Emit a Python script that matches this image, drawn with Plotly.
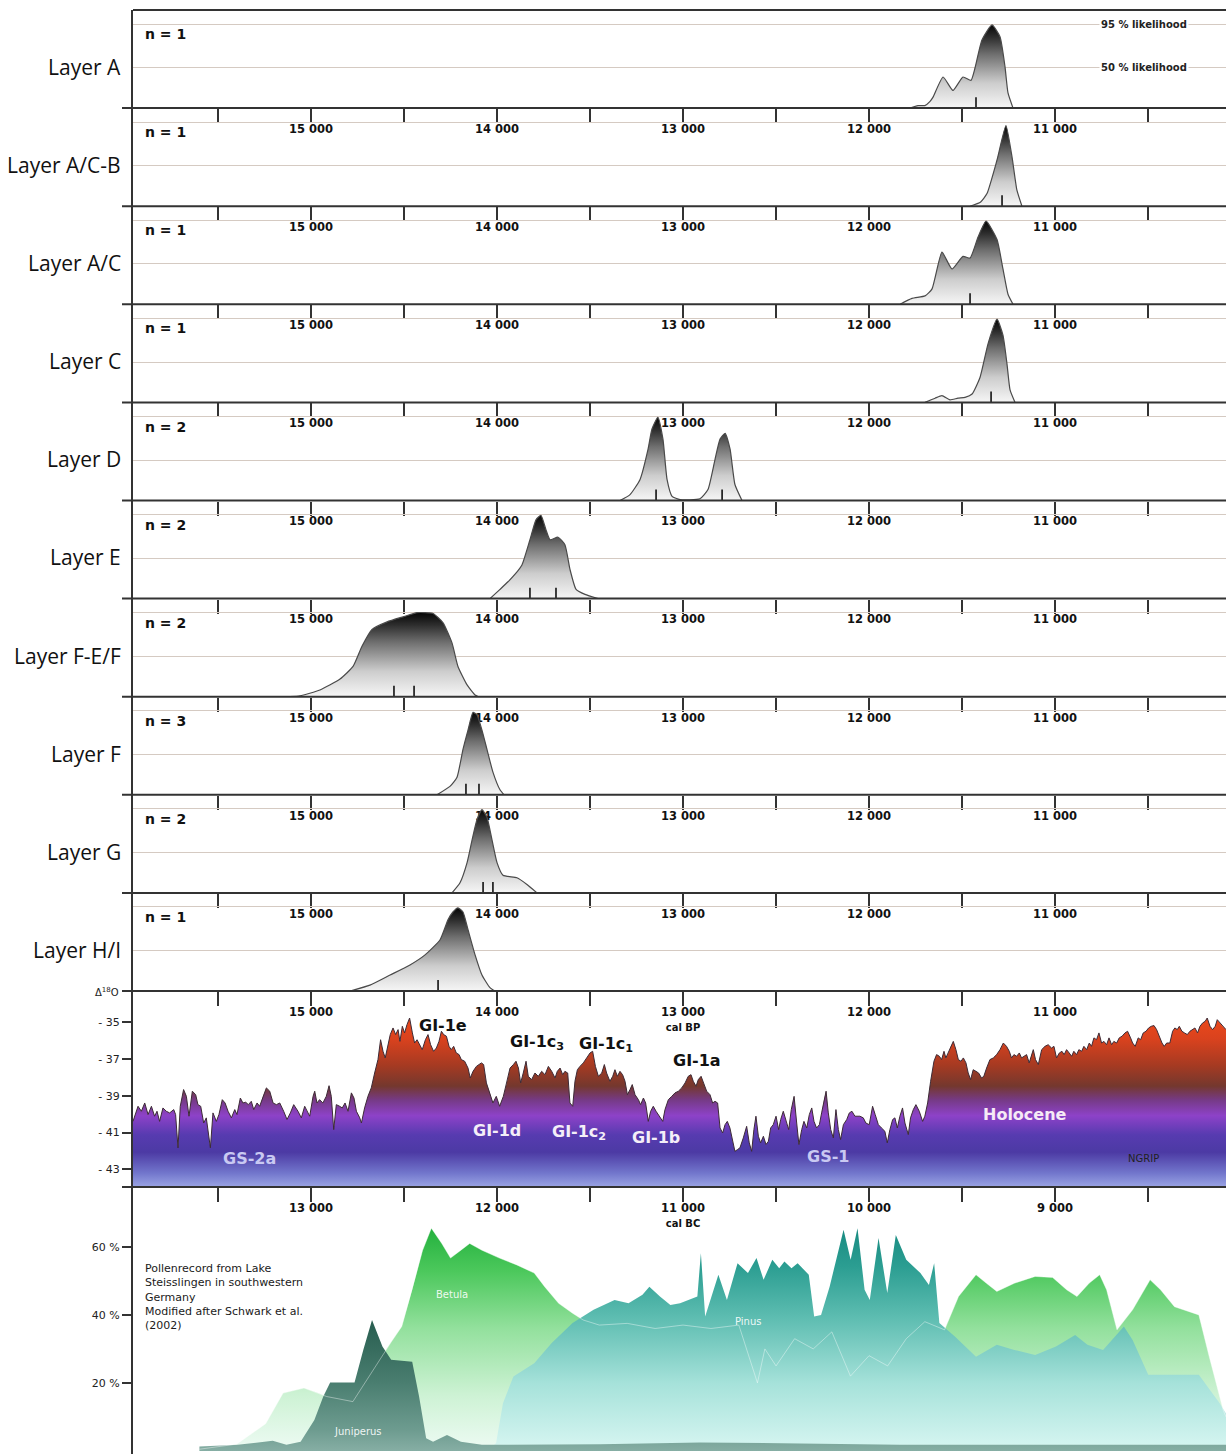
import plotly.graph_objects as go

# ------------------------------------------------------------------ data
layer_names = ["Layer A", "Layer A/C-B", "Layer A/C", "Layer C", "Layer D",
               "Layer E", "Layer F-E/F", "Layer F", "Layer G", "Layer H/I"]
layer_n = [1, 1, 1, 1, 2, 2, 2, 3, 2, 1]

# calibrated probability densities (age cal BP, relative density)
A_age = [11780, 11737, 11700, 11672, 11656, 11602, 11549, 11495, 11452, 11430, 11393, 11339, 11296, 11269, 11253, 11226]
A_dens = [0, 0.03, 0.03, 0.08, 0.13, 0.37, 0.21, 0.37, 0.33, 0.48, 0.81, 0.99, 0.85, 0.49, 0.18, 0]
A_med = [11425]

ACB_age = [11457, 11400, 11366, 11312, 11264, 11231, 11205, 11178]
ACB_dens = [0, 0.05, 0.15, 0.55, 0.96, 0.58, 0.19, 0]
ACB_med = [11285]

AC_age = [11833, 11769, 11699, 11662, 11608, 11554, 11495, 11457, 11414, 11371, 11312, 11280, 11253, 11226]
AC_dens = [0, 0.07, 0.1, 0.18, 0.62, 0.42, 0.57, 0.55, 0.8, 0.99, 0.77, 0.42, 0.12, 0]
AC_med = [11457]

C_age = [11699, 11645, 11608, 11565, 11522, 11484, 11446, 11403, 11360, 11312, 11280, 11258, 11242, 11215]
C_dens = [0, 0.05, 0.08, 0.03, 0.05, 0.06, 0.1, 0.3, 0.7, 0.99, 0.8, 0.45, 0.15, 0]
C_med = [11344]

D_age = [13339, 13285, 13231, 13188, 13167, 13135, 13108, 13086, 13059, 13016, 12909, 12866, 12828, 12801, 12774, 12747, 12721, 12683]
D_dens = [0, 0.07, 0.25, 0.61, 0.85, 0.99, 0.73, 0.25, 0.05, 0.01, 0.02, 0.13, 0.49, 0.73, 0.80, 0.61, 0.19, 0]
D_med = [13145, 12790]

E_age = [14038, 13984, 13941, 13903, 13866, 13823, 13790, 13764, 13737, 13715, 13672, 13635, 13608, 13575, 13527, 13457]
E_dens = [0, 0.11, 0.2, 0.29, 0.4, 0.70, 0.94, 0.99, 0.82, 0.70, 0.73, 0.64, 0.35, 0.11, 0.05, 0]
E_med = [13823, 13683]

FEF_age = [15113, 15059, 14952, 14844, 14774, 14726, 14672, 14591, 14505, 14430, 14344, 14290, 14242, 14210, 14161, 14118, 14100]
FEF_dens = [0, 0.01, 0.08, 0.21, 0.36, 0.6, 0.8, 0.89, 0.95, 1.0, 0.99, 0.88, 0.64, 0.36, 0.14, 0.02, 0]
FEF_med = [14554, 14446]

F_age = [14323, 14253, 14215, 14183, 14156, 14129, 14108, 14081, 14054, 14022, 13984, 13962]
F_dens = [0, 0.10, 0.21, 0.54, 0.77, 0.98, 0.95, 0.77, 0.54, 0.27, 0.06, 0]
F_med = [14167, 14097]

G_age = [14242, 14199, 14161, 14134, 14108, 14081, 14054, 14027, 14000, 13968, 13893, 13839, 13785]
G_dens = [0, 0.12, 0.36, 0.63, 0.87, 0.99, 0.90, 0.63, 0.36, 0.21, 0.18, 0.10, 0]
G_med = [14075, 14022]

HI_age = [14790, 14683, 14575, 14468, 14387, 14306, 14263, 14237, 14210, 14183, 14156, 14118, 14081, 14038, 14011]
HI_dens = [0, 0.07, 0.19, 0.31, 0.43, 0.61, 0.85, 0.94, 0.99, 0.94, 0.73, 0.43, 0.19, 0.04, 0]
HI_med = [14317]

# NGRIP delta 18O (age cal BP, permil)
ngrip_age = [
    15957, 15930, 15912, 15894, 15876, 15858, 15841, 15828, 15814, 15796, 15778, 15760, 15738, 15728, 15715,
    15703, 15685, 15670, 15656, 15638, 15620, 15608, 15593, 15577, 15563, 15541, 15527, 15509, 15495, 15477,
    15462, 15446, 15428, 15410, 15398, 15380, 15366, 15351, 15337, 15321, 15308, 15290, 15276, 15258, 15240,
    15222, 15204, 15186, 15168, 15147, 15129, 15111, 15093, 15070, 15052, 15034, 15022, 15007, 14989, 14980,
    14968, 14954, 14936, 14918, 14903, 14891, 14878, 14864, 14846, 14832, 14817, 14801, 14783, 14769, 14756,
    14738, 14729, 14712, 14694, 14676, 14658, 14640, 14626, 14613, 14601, 14586, 14574, 14559, 14545, 14532,
    14522, 14509, 14497, 14484, 14470, 14455, 14443, 14430, 14416, 14402, 14385, 14371, 14357, 14341, 14326,
    14312, 14299, 14287, 14272, 14258, 14246, 14233, 14219, 14204, 14192, 14174, 14156, 14144, 14129, 14111,
    14084, 14072, 14057, 14039, 14022, 14004, 13986,
    13966, 13948, 13930, 13912, 13898, 13885, 13873, 13859, 13844, 13832, 13814, 13796, 13778, 13760, 13742,
    13724, 13706, 13688, 13676, 13661, 13647, 13635, 13620, 13608, 13593, 13581, 13568, 13554, 13536, 13518,
    13500, 13486, 13471, 13455, 13437, 13423, 13411, 13393, 13378, 13366, 13353, 13339, 13325, 13312, 13299,
    13285, 13273, 13258, 13240, 13228, 13213, 13201, 13187, 13174, 13160, 13145, 13127, 13109, 13097, 13079,
    13061, 13043, 13025, 13007, 12989, 12972, 12957, 12945, 12930, 12918, 12903, 12887, 12873, 12855, 12841,
    12828, 12814, 12801, 12787, 12774, 12762, 12748, 12733, 12721, 12708, 12694, 12676, 12658, 12644, 12631,
    12619, 12608, 12595, 12583, 12568, 12554, 12541, 12529, 12515, 12500, 12486, 12475, 12461, 12446, 12432,
    12418, 12403, 12389, 12377, 12362, 12350, 12335, 12321, 12308, 12296, 12282, 12267, 12255, 12242, 12231,
    12219, 12206, 12192, 12178, 12165, 12153, 12138, 12120, 12106, 12092, 12076, 12058,
    12049, 12031, 12017, 11999, 11981, 11967, 11950, 11933, 11915, 11902, 11888, 11873, 11861, 11848, 11834,
    11820, 11807, 11789, 11777, 11762, 11748, 11730, 11712, 11700, 11685, 11669, 11651, 11637, 11622, 11610,
    11597, 11587, 11574, 11560, 11547, 11533, 11520, 11506, 11493, 11479, 11467, 11454, 11440, 11425, 11411,
    11395, 11383, 11368, 11350, 11332, 11314, 11296, 11278, 11261, 11246, 11234, 11221, 11207, 11192, 11180,
    11166, 11153, 11139, 11126, 11117, 11105, 11090, 11072, 11054, 11037, 11019, 11006, 10992, 10977, 10963,
    10951, 10938, 10924, 10911, 10899, 10884, 10872, 10857, 10845, 10830, 10816, 10804, 10791, 10777, 10764,
    10750, 10737, 10723, 10710, 10696, 10684, 10669, 10655, 10640, 10624, 10610, 10594, 10583, 10569, 10553,
    10540, 10526, 10511, 10497, 10483, 10468, 10454, 10440, 10425, 10413, 10400, 10383, 10368, 10356, 10343,
    10332, 10318, 10304, 10289, 10275, 10261, 10248, 10234, 10221, 10207, 10193, 10182, 10167, 10153, 10139,
    10128, 10114, 10099, 10081]
ngrip_d18o = [
    -40.39, -39.57, -39.84, -39.39, -40.02, -39.57, -40.11, -39.84, -40.39, -39.66, -39.84, -39.93, -39.75, -40.02, -41.83,
    -39.57, -38.66, -39.03, -40.11, -38.75, -38.94, -39.48, -39.57, -40.48, -40.20, -41.83, -39.93, -40.39, -40.02, -39.21,
    -39.39, -39.84, -40.20, -39.75, -40.02, -39.12, -39.39, -39.35, -39.48, -39.30, -39.75, -39.39, -39.57, -39.03, -38.57,
    -38.75, -39.39, -39.48, -39.39, -39.84, -40.29, -39.93, -39.48, -39.84, -40.20, -39.57, -39.84, -40.11, -39.03, -38.75,
    -39.39, -39.21, -39.39, -39.03, -38.45, -39.03, -40.84, -39.48, -39.57, -39.66, -39.39, -39.84, -38.84, -39.12, -39.84,
    -40.20, -40.48, -39.66, -39.03, -38.57, -37.76, -37.03, -35.95, -36.58, -36.94, -36.22, -35.67, -35.31, -35.67, -35.40,
    -36.04, -35.22, -35.58, -35.13, -34.77, -35.58, -36.13, -35.95, -36.22, -36.49, -35.95, -35.67, -36.22, -36.58, -36.40,
    -36.04, -35.49, -35.67, -35.76, -36.31, -36.49, -36.31, -36.67, -36.76, -37.03, -37.12, -37.49, -38.03, -37.67, -37.40,
    -37.21, -37.30, -38.30, -38.84, -39.39, -39.03, -39.57,
    -39.03, -38.30, -37.49, -37.30, -37.12, -37.49, -38.30, -37.76, -37.12, -37.94, -38.12, -37.76, -37.94, -37.67, -37.85,
    -37.40, -37.67, -38.03, -37.67, -37.49, -37.85, -37.67, -37.76, -39.39, -39.57, -38.21, -37.58, -37.40, -37.21, -36.94,
    -36.67, -36.58, -37.40, -37.94, -37.76, -37.30, -37.76, -38.21, -37.94, -37.58, -37.94, -37.67, -37.85, -38.21, -38.94,
    -38.66, -38.39, -38.94, -39.21, -39.48, -39.12, -39.39, -40.39, -39.84, -39.57, -39.84, -40.11, -40.39, -39.75, -39.21,
    -39.03, -38.84, -38.75, -38.57, -38.30, -37.94, -37.85, -38.21, -38.48, -38.12, -37.94, -38.39, -38.75, -38.94, -39.39,
    -39.30, -39.39, -40.75, -41.02, -40.57, -40.39, -40.75, -41.47, -42.02, -41.93, -41.83, -41.29, -40.66, -41.56, -42.02,
    -40.84, -40.11, -41.20, -41.56, -41.20, -41.65, -41.47, -40.75, -40.57, -40.11, -40.84, -40.29, -39.84, -40.39, -40.84,
    -39.75, -39.03, -40.48, -41.65, -40.84, -40.39, -40.75, -40.02, -39.66, -40.39, -40.75, -40.57, -39.93, -39.21, -38.75,
    -39.93, -40.84, -41.29, -39.75, -40.84, -41.38, -40.57, -40.29, -39.93, -39.84, -40.11, -40.11,
    -40.11, -40.20, -40.48, -40.57, -39.57, -40.02, -40.57, -40.75, -40.93, -41.56, -40.84, -40.29, -40.20, -40.75, -40.11,
    -39.66, -40.48, -41.11, -40.20, -39.75, -39.48, -39.84, -40.39, -40.11, -39.39, -38.21, -37.12, -36.76, -36.85, -37.03,
    -36.58, -36.94, -36.67, -36.31, -36.04, -36.49, -37.03, -37.12, -36.94, -37.21, -37.76, -38.12, -37.58, -37.67, -37.76,
    -38.03, -37.94, -37.49, -37.03, -36.94, -36.76, -36.49, -36.13, -36.31, -36.58, -36.94, -36.76, -36.85, -36.67, -36.94,
    -36.85, -36.76, -37.21, -36.76, -36.49, -37.03, -37.30, -36.49, -36.31, -36.22, -36.40, -36.31, -36.94, -36.67, -36.58,
    -36.76, -36.49, -36.67, -36.85, -36.58, -36.76, -36.49, -36.58, -36.31, -36.49, -36.13, -36.31, -35.85, -35.95, -35.58,
    -36.13, -36.04, -36.22, -35.85, -36.22, -36.04, -36.13, -35.85, -35.76, -35.58, -35.49, -35.85, -36.13, -36.31, -35.85,
    -35.95, -35.58, -35.49, -35.31, -35.22, -35.18, -35.40, -35.76, -36.13, -36.31, -36.13, -36.13, -35.49, -35.31, -35.40,
    -35.22, -35.49, -35.58, -35.67, -35.49, -35.40, -35.31, -35.58, -35.22, -35.04, -34.95, -34.77, -35.22, -35.40, -35.22,
    -34.86, -35.04, -35.22, -35.40]

# Pollen record, Lake Steisslingen (age cal BC, percent)
juniperus_bc = [13600, 13394, 13206, 13132, 13056, 12982, 12934, 12897, 12766, 12719, 12672, 12616, 12569, 12456,
                12419, 12381, 12344, 12269, 12194, 12081, 11446, 10909, 10371, 9834, 9296, 8758, 8081]
juniperus_pct = [1.3, 1.8, 3.0, 1.8, 2.7, 9.1, 16.0, 20.1, 20.1, 29.7, 38.5, 30.7, 26.8, 26.2,
                 16.0, 3.7, 2.7, 4.7, 2.7, 1.8, 2.0, 2.5, 2.2, 1.8, 1.8, 1.8, 1.8]
betula_bc = [13600, 13400, 13244, 13150, 13038, 12962, 12916, 12775, 12644, 12569, 12512, 12456, 12400, 12353,
             12297, 12250, 12194, 12147, 12081, 11987, 11894, 11800, 11744, 11669, 11594, 11537, 11450, 11300,
             11150, 11000, 10850, 10700, 10600, 10560, 10500, 10400, 10300, 10200, 10100, 10000, 9900, 9800,
             9700, 9594, 9519, 9425, 9369, 9313, 9219, 9107, 9013, 8938, 8882, 8817, 8760, 8723, 8667, 8583,
             8489, 8433, 8358, 8227, 8171, 8096, 8081]
betula_pct = [0.5, 2, 8, 17, 18.5, 17, 16, 14.5, 25.8, 32, 36.6, 47.4, 59, 65.5,
              61, 56.7, 59, 61, 59, 56.7, 54.7, 52.3, 48.3, 43.4, 40.5, 38.5, 37, 37.5,
              36, 37, 36, 37, 20, 30, 25, 33, 30, 35, 22, 28, 25, 33,
              38, 35.6, 45.4, 51.8, 49.3, 46.9, 49.3, 51.3, 51, 47.4, 45.4, 49.3, 51.8, 47.4, 35.6, 41.5,
              50.3, 47.4, 42.4, 40, 27.7, 12, 10]
pinus_bc = [12050, 12005, 11968, 11912, 11800, 11706, 11594, 11481, 11368, 11293, 11218, 11181, 11124, 11068,
            11016, 10923, 10904, 10881, 10810, 10764, 10707, 10651, 10605, 10567, 10520, 10483, 10455, 10417,
            10384, 10324, 10295, 10258, 10212, 10137, 10099, 10062, 10024, 9996, 9949, 9902, 9856, 9800, 9724,
            9678, 9650, 9622, 9537, 9425, 9313, 9219, 9107, 8995, 8892, 8826, 8742, 8630, 8583, 8499, 8227,
            8115, 8081]
pinus_pct = [0, 2.3, 14, 21.9, 25.8, 31.7, 37.6, 41.5, 44.4, 43.4, 45.9, 48.3, 45.4, 42.9,
             43.4, 45.4, 58.1, 39.5, 51.8, 44.4, 55.2, 52.3, 56.7, 50.3, 56.2, 53.7, 55.7, 53.7,
             55.2, 51.8, 39.5, 40, 48.3, 65, 56.2, 65.5, 47.4, 44.4, 62.6, 46.4, 63.5, 56.2, 52.3,
             48.8, 55.2, 37.6, 33.6, 27.7, 31.2, 29.7, 28.2, 30.7, 34.1, 31.2, 29.7, 36.6, 32.6, 22.4, 22.4,
             14, 11]

# axis ticks
major_bp = [15000, 14000, 13000, 12000, 11000]
minor_bp = [15500, 14500, 13500, 12500, 11500, 10500]
bc_offset = 2000          # offset used by the chart's lower (cal BC) scale
ngrip_ticks = [-35, -37, -39, -41, -43]
pollen_ticks = [20, 40, 60]

# ------------------------------------------------------------------ layout constants
W, H = 1226, 1454          # page size
ML, MT = 133, 10           # plot area origin on the page
PW, PH = W - ML, H - MT
bp_range = [15957, 10081]
bc_range = [bp_range[0] - bc_offset, bp_range[1] - bc_offset]
dens_range = [0, 1.167]
ngrip_range = [-43.96, -33.30]
pollen_range = [-0.9, 77.6]
bounds = [MT + 98.1 * i for i in range(11)] + [1187, 1454]


def yp(px):
    return (H - px) / PH


def fmt(v):
    return f"{v // 1000} {v % 1000:03d}"


def ax(k):
    return "" if k == 1 else str(k)


LINE = "#333333"
TICKFONT = dict(family="DejaVu Sans", size=11.5, color="#111111", weight="bold")
MINOR = dict(tickvals=minor_bp, ticks="outside", ticklen=14, tickwidth=2, tickcolor=LINE, showgrid=False)
gray_cs = [[0, "#f6f6f6"], [0.3, "#cdcdcd"], [0.65, "#6e6e6e"], [0.85, "#2e2e2e"], [1, "#050505"]]

fig = go.Figure()
layout = dict(width=W, height=H, margin=dict(l=ML, r=0, t=MT, b=0, pad=0),
              paper_bgcolor="white", plot_bgcolor="white", showlegend=False,
              font=dict(family="DejaVu Sans", color="#111111"))
annotations = []
shapes = []

layers = [(A_age, A_dens, A_med), (ACB_age, ACB_dens, ACB_med), (AC_age, AC_dens, AC_med),
          (C_age, C_dens, C_med), (D_age, D_dens, D_med), (E_age, E_dens, E_med),
          (FEF_age, FEF_dens, FEF_med), (F_age, F_dens, F_med), (G_age, G_dens, G_med),
          (HI_age, HI_dens, HI_med)]

bp_text = [fmt(v) for v in major_bp]

for i, (age, dens, med) in enumerate(layers):
    k = i + 1
    xa, ya = "x" + ax(k), "y" + ax(k)
    fig.add_trace(go.Scatter(
        x=age, y=dens, xaxis=xa, yaxis=ya, mode="lines", fill="tozeroy",
        fillgradient=dict(type="vertical", colorscale=gray_cs),
        line=dict(color="#4a4a4a", width=1.2, shape="spline", smoothing=0.5),
        hoverinfo="skip"))
    mx, my = [], []
    for m in med:
        mx += [m, m, None]
        my += [0, 0.13, None]
    fig.add_trace(go.Scatter(x=mx, y=my, xaxis=xa, yaxis=ya, mode="lines",
                             line=dict(color="#111111", width=1.6), hoverinfo="skip"))
    texts = list(bp_text)
    if k == 10:
        texts = [t + "<br><span style='font-size:10px'>cal BP</span>" if v == 13000 else t
                 for v, t in zip(major_bp, texts)]
    layout["xaxis" + ax(k)] = dict(
        domain=[0, 1], anchor=ya, range=bp_range, showgrid=False, zeroline=False, showline=False,
        ticks="outside", ticklen=14, tickwidth=2, tickcolor=LINE, tickvals=major_bp, ticktext=texts,
        tickfont=TICKFONT, ticklabelstandoff=-4, minor=MINOR)
    layout["yaxis" + ax(k)] = dict(
        domain=[yp(bounds[i + 1]), yp(bounds[i])], anchor=xa, range=dens_range,
        showline=True, linecolor=LINE, linewidth=2, showgrid=True, gridcolor="#d5cac2", gridwidth=1,
        tickvals=[0.48, 1.0], showticklabels=False, ticks="", zeroline=False)
    annotations.append(dict(text=layer_names[i], xref="paper", x=-10 / PW, xanchor="right",
                            yref=ya, y=0.49, yanchor="middle", showarrow=False,
                            font=dict(family="Open Sans", size=21, color="#111111")))
    annotations.append(dict(text=f"n = {layer_n[i]}", xref="paper", x=10 / PW, xanchor="left",
                            yref=ya, y=0.88, yanchor="middle", showarrow=False,
                            font=dict(family="DejaVu Sans", size=14, color="#111111", weight="bold")))

# likelihood labels in first panel
for lab, yy in [("95 % likelihood", 1.0), ("50 % likelihood", 0.48)]:
    annotations.append(dict(text=lab, xref="x", x=10522, yref="y", y=yy, showarrow=False,
                            bgcolor="white", borderpad=1,
                            font=dict(family="DejaVu Sans", size=10, color="#222222", weight="bold")))

# ------------------------------------------------------------------ NGRIP panel
xa, ya = "x11", "y11"
floor = ngrip_range[0]
fig.add_trace(go.Scatter(
    x=ngrip_age + [ngrip_age[-1], ngrip_age[0]], y=ngrip_d18o + [floor, floor],
    xaxis=xa, yaxis=ya, mode="none", fill="toself",
    fillgradient=dict(type="vertical", start=floor, stop=-34.5,
                      colorscale=[[0, "#9aa4e4"], [0.08, "#7276cc"], [0.2, "#4c3aa4"], [0.3, "#573bb0"],
                                  [0.41, "#8d42c8"], [0.5, "#763a86"], [0.58, "#74382e"],
                                  [0.7, "#a63a22"], [0.85, "#d9421e"], [1, "#ef4a1a"]]),
    hoverinfo="skip"))
fig.add_trace(go.Scatter(x=ngrip_age, y=ngrip_d18o, xaxis=xa, yaxis=ya, mode="lines",
                         line=dict(color="#3d2b36", width=1), hoverinfo="skip"))
bc_text = []
for v in major_bp:
    if v == 13000:
        bc_text.append(fmt(v - bc_offset) + "<br><span style='font-size:10px'>cal BC</span>")
    else:
        bc_text.append(fmt(v - bc_offset))
layout["xaxis11"] = dict(domain=[0, 1], anchor=ya, range=bp_range, showgrid=False, zeroline=False,
                         showline=False, ticks="outside", ticklen=14, tickwidth=2, tickcolor=LINE,
                         tickvals=major_bp, ticktext=bc_text, tickfont=TICKFONT, ticklabelstandoff=-4,
                         minor=MINOR)
layout["yaxis11"] = dict(domain=[yp(bounds[11]), yp(bounds[10])], anchor=xa, range=ngrip_range,
                         showline=True, linecolor=LINE, linewidth=2, showgrid=False, zeroline=False,
                         ticks="outside", ticklen=9, tickwidth=1.5, tickcolor=LINE,
                         tickvals=ngrip_ticks, ticktext=[f"- {abs(v)}" for v in ngrip_ticks],
                         tickfont=dict(family="DejaVu Sans", size=11, color="#222222"))

ng_labels = [("GI-1e", 14290, -35.2, "#111111"), ("GI-1c<sub>3</sub>", 13785, -36.1, "#111111"),
             ("GI-1c<sub>1</sub>", 13414, -36.2, "#111111"), ("GI-1a", 12925, -37.1, "#111111"),
             ("GI-1d", 14000, -40.9, "#f4eef8"), ("GI-1c<sub>2</sub>", 13559, -41.0, "#f4eef8"),
             ("GI-1b", 13145, -41.25, "#f4eef8"), ("GS-2a", 15333, -42.4, "#c9c9f2"),
             ("GS-1", 12221, -42.3, "#c9c9f2"), ("Holocene", 11162, -40.0, "#f6eaf6")]
for t, x, y, c in ng_labels:
    annotations.append(dict(text=t, xref=xa, x=x, yref=ya, y=y, showarrow=False,
                            font=dict(family="DejaVu Sans", size=16, color=c, weight="bold")))
annotations.append(dict(text="NGRIP", xref=xa, x=10522, yref=ya, y=-42.4, showarrow=False,
                        font=dict(family="DejaVu Sans", size=10, color="#222222")))
annotations.append(dict(text="Δ<sup>18</sup>O", xref="paper", x=-40 / PW, yref="paper", y=yp(1000),
                        showarrow=False, font=dict(family="DejaVu Sans", size=10, color="#222222")))

# ------------------------------------------------------------------ pollen panel
xa, ya = "x12", "y12"
fig.add_trace(go.Scatter(
    x=betula_bc, y=betula_pct, xaxis=xa, yaxis=ya, mode="none", fill="tozeroy",
    fillgradient=dict(type="vertical", start=0, stop=66,
                      colorscale=[[0, "#eefbf4"], [0.25, "#cdf2d4"], [0.55, "#92e09c"],
                                  [0.8, "#4cc85c"], [1, "#22b03c"]]),
    hoverinfo="skip"))
fig.add_trace(go.Scatter(
    x=pinus_bc, y=pinus_pct, xaxis=xa, yaxis=ya, mode="none", fill="tozeroy",
    fillgradient=dict(type="vertical", start=0, stop=66,
                      colorscale=[[0, "#d8f6f2"], [0.3, "#a6e2da"], [0.6, "#5cbcb0"],
                                  [0.82, "#2c9e92"], [1, "#178a80"]]),
    hoverinfo="skip"))
fig.add_trace(go.Scatter(
    x=juniperus_bc, y=juniperus_pct, xaxis=xa, yaxis=ya, mode="none", fill="tozeroy",
    fillgradient=dict(type="vertical", start=0, stop=40,
                      colorscale=[[0, "#86aea4"], [0.15, "#6e9c90"], [0.5, "#4a7e70"], [1, "#245a4c"]]),
    hoverinfo="skip"))
fig.add_trace(go.Scatter(x=betula_bc, y=betula_pct, xaxis=xa, yaxis=ya, mode="lines",
                         line=dict(color="rgba(255,255,255,0.4)", width=1), hoverinfo="skip"))
layout["xaxis12"] = dict(domain=[0, 1], anchor=ya, range=bc_range, showgrid=False, zeroline=False,
                         showline=False, showticklabels=False, ticks="")
layout["yaxis12"] = dict(domain=[yp(bounds[12]), yp(bounds[11])], anchor=xa, range=pollen_range,
                         showline=True, linecolor=LINE, linewidth=2, showgrid=False, zeroline=False,
                         ticks="outside", ticklen=9, tickwidth=1.5, tickcolor=LINE,
                         tickvals=pollen_ticks, ticktext=[f"{v} %" for v in pollen_ticks],
                         tickfont=dict(family="DejaVu Sans", size=11, color="#222222"))
for t, x, y in [("Betula", 12242, 46), ("Pinus", 10651, 38), ("Juniperus", 12747, 5.6)]:
    annotations.append(dict(text=t, xref=xa, x=x, yref=ya, y=y, showarrow=False,
                            font=dict(family="DejaVu Sans", size=10, color="rgba(255,255,255,0.9)")))
annotations.append(dict(
    text="Pollenrecord from Lake<br>Steisslingen in southwestern<br>Germany<br>"
         "Modified after Schwark et al.<br>(2002)",
    xref="paper", x=10 / PW, xanchor="left", yref="paper", y=yp(1260), yanchor="top",
    align="left", showarrow=False, font=dict(family="DejaVu Sans", size=11, color="#1a1a1a")))

# ------------------------------------------------------------------ frame lines
shapes.append(dict(type="line", xref="paper", yref="paper", x0=0, x1=1, y0=1, y1=1,
                   line=dict(color=LINE, width=2), layer="above"))
for b in bounds[1:12]:
    shapes.append(dict(type="line", xref="paper", yref="paper", x0=-11 / PW, x1=1,
                       y0=yp(b), y1=yp(b), line=dict(color=LINE, width=2), layer="above"))

layout["annotations"] = annotations
layout["shapes"] = shapes
fig.update_layout(**layout)
fig.write_html("out.html", config={"displayModeBar": False},
               post_script="document.body.style.margin='0';document.body.style.overflow='hidden';")
